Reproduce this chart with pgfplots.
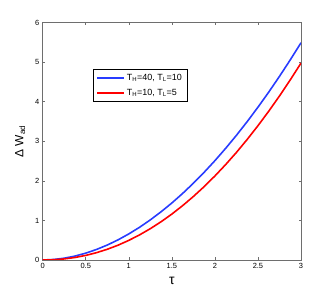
\documentclass[border=0pt]{standalone}
\usepackage{fontspec}
\setmainfont{Liberation Sans}
\usepackage{pgfplots}
\pgfplotsset{compat=1.18}
\definecolor{mblue}{RGB}{40,60,255}
\definecolor{mred}{RGB}{255,0,0}
\definecolor{axgray}{RGB}{110,110,110}
\begin{document}
\begin{tikzpicture}
\begin{axis}[
  scale only axis,
  width=258.3bp, height=237.3bp,
  xmin=0, xmax=3, ymin=0, ymax=6,
  xtick={0,0.5,...,3}, ytick={0,1,...,6},
  xticklabels={0,0.5,1,1.5,2,2.5,3},
  tick align=inside,
  major tick length=2.5bp,
  axis line style={axgray, line width=0.8pt},
  tick style={axgray, line width=0.6pt},
  tick label style={font=\fontsize{7.5}{8}\selectfont},
  /pgf/number format/assume math mode=true,
  xlabel={\fontsize{14}{15}\selectfont τ},
  ylabel={\fontsize{12}{14}\selectfont Δ W\textsubscript{ad}},
  xlabel style={yshift=-1bp},
  ylabel style={yshift=3bp},
  legend style={at={(0.195,0.805)}, anchor=north west, draw=black, line width=0.6pt,
    font=\fontsize{9}{11}\selectfont, inner xsep=3pt, inner ysep=3pt, row sep=3pt},
  legend cell align=left,
  legend image code/.code={\draw[#1, line width=1.6pt] (0cm,0cm) -- (0.95cm,0cm);},
]
\addplot[draw=mblue, line width=1.6pt] coordinates {
(0,0) (0.125,0.012) (0.25,0.045) (0.375,0.099) (0.5,0.173) (0.625,0.266) (0.75,0.378) (0.875,0.509)
(1,0.659) (1.125,0.827) (1.25,1.014) (1.375,1.219) (1.5,1.441) (1.625,1.682) (1.75,1.941) (1.875,2.217)
(2,2.511) (2.125,2.823) (2.25,3.152) (2.375,3.499) (2.5,3.863) (2.625,4.244) (2.75,4.643) (2.875,5.059) (3,5.492)};
\addlegendentry{T\textsubscript{H}=40, T\textsubscript{L}=10}
\addplot[draw=mred, line width=1.6pt] coordinates {
(0,0) (0.125,0.006) (0.25,0.027) (0.375,0.063) (0.5,0.116) (0.625,0.185) (0.75,0.271) (0.875,0.374)
(1,0.496) (1.125,0.635) (1.25,0.792) (1.375,0.967) (1.5,1.161) (1.625,1.374) (1.75,1.605) (1.875,1.855)
(2,2.124) (2.125,2.413) (2.25,2.720) (2.375,3.048) (2.5,3.395) (2.625,3.761) (2.75,4.147) (2.875,4.553) (3,4.978)};
\addlegendentry{T\textsubscript{H}=10, T\textsubscript{L}=5}
\end{axis}
\pgfresetboundingbox
\path ([shift={(-42.7bp,-33bp)}]current axis.south west) rectangle ([shift={(31bp,22.7bp)}]current axis.north east);
\end{tikzpicture}
\end{document}
